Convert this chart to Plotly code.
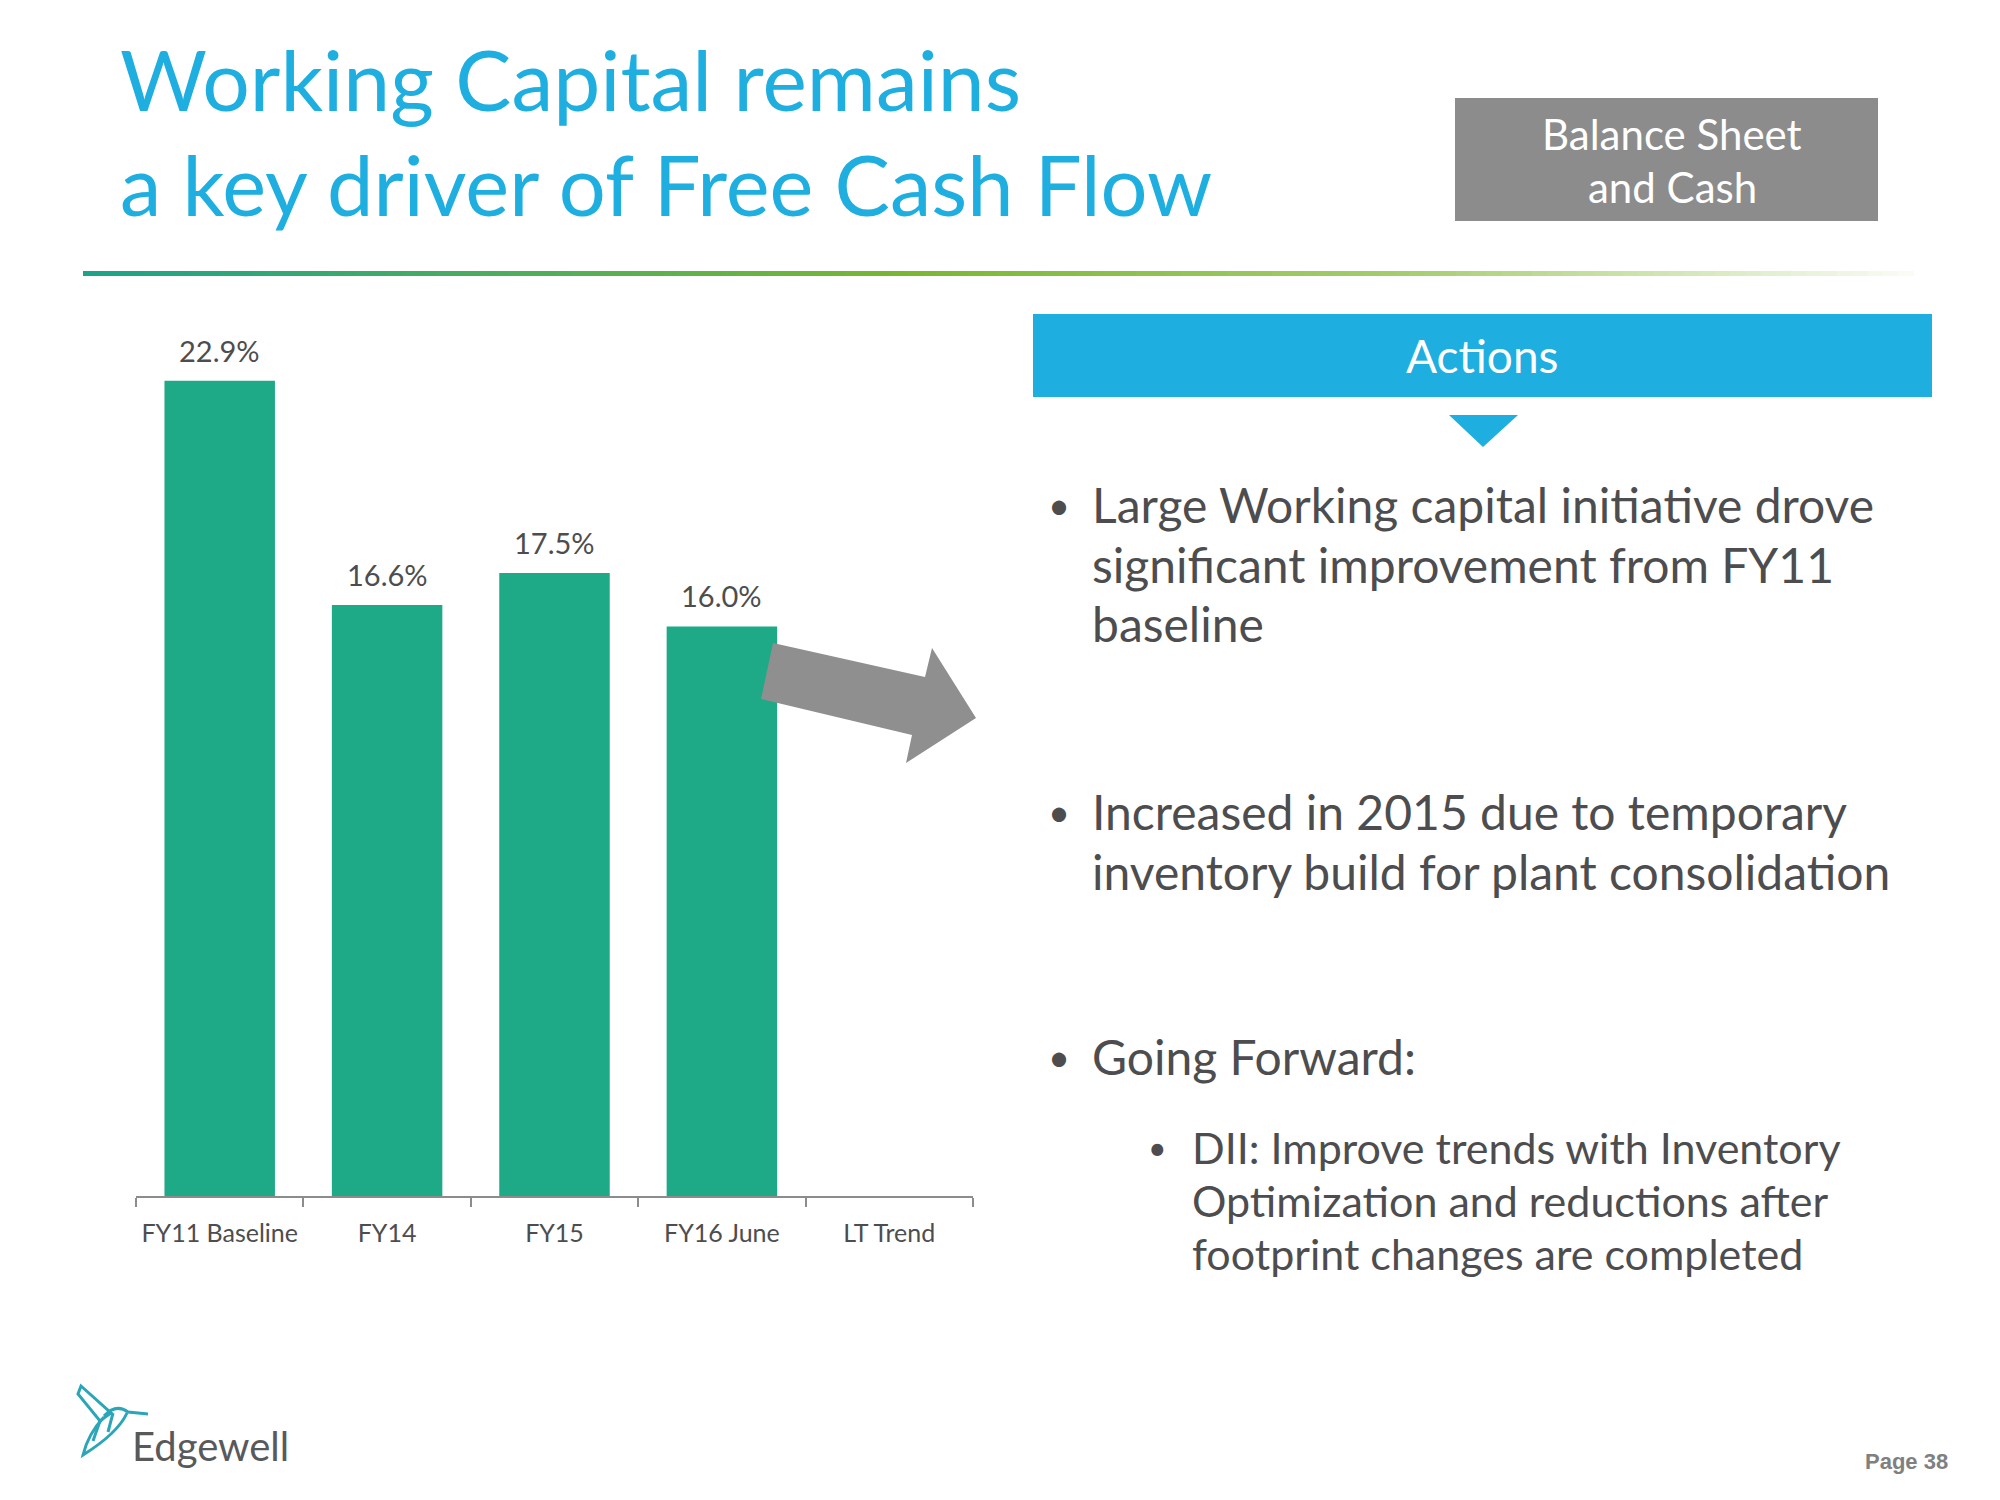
import plotly.graph_objects as go

# ---------------- data ----------------
categories = ["FY11 Baseline", "FY14", "FY15", "FY16 June", "LT Trend"]
wc_pct = [22.9, 16.6, 17.5, 16.0, None]
value_labels = ["22.9%", "16.6%", "17.5%", "16.0%", ""]

title_lines = ["Working Capital remains", "a key driver of Free Cash Flow"]
badge_lines = ["Balance Sheet", "and Cash"]
bullet1 = ["Large Working capital initiative drove", "significant improvement from FY11", "baseline"]
bullet2 = ["Increased in 2015 due to temporary", "inventory build for plant consolidation"]
bullet3 = ["Going Forward:"]
sub_bullet = ["DII: Improve trends with Inventory", "Optimization and reductions after",
              "footprint changes are completed"]

W, H = 2000, 1500
FONT = "Lato"
TEXT_GRAY = "#4d4d4f"
BAR = "#1ea987"
CYAN = "#1eaee0"


def px(x):
    return x / W


def py(y):
    return 1 - y / H


fig = go.Figure()
fig.add_trace(go.Bar(x=categories, y=wc_pct, marker_color=BAR, marker_line_width=0,
                     hoverinfo="skip"))

annotations = []
shapes = []

# value labels over the bars
for c, v, t in zip(categories, wc_pct, value_labels):
    if v is None:
        continue
    annotations.append(dict(x=c, y=v, xref="x", yref="y", text=t, showarrow=False,
                            yanchor="bottom", yshift=11,
                            font=dict(family=FONT, size=29, color=TEXT_GRAY)))

# title
for txt, yc, sz in zip(title_lines, [78, 184], [84, 83]):
    annotations.append(dict(x=px(118), y=py(yc), xref="paper", yref="paper", text=txt,
                            showarrow=False, xanchor="left", yanchor="middle",
                            font=dict(family=FONT, size=sz, color=CYAN)))

# badge
shapes.append(dict(type="rect", xref="paper", yref="paper", x0=px(1455), x1=px(1878),
                   y0=py(98), y1=py(221), fillcolor="#8c8c8c", line_width=0, layer="below"))
for txt, yc in zip(badge_lines, [134, 187]):
    annotations.append(dict(x=px(1672), y=py(yc), xref="paper", yref="paper", text=txt,
                            showarrow=False, xanchor="center", yanchor="middle",
                            font=dict(family=FONT, size=42, color="white")))

# gradient rule
def lerp(a, b, t):
    return tuple(int(round(a[i] + (b[i] - a[i]) * t)) for i in range(3))

stops = [(0.0, (27, 163, 138)), (0.45, (122, 183, 50)), (0.72, (165, 205, 110)), (1.0, (250, 252, 246))]
n = 120
x_start, x_end = 83, 1913
for i in range(n):
    t = (i + 0.5) / n
    for j in range(len(stops) - 1):
        if stops[j][0] <= t <= stops[j + 1][0]:
            tt = (t - stops[j][0]) / (stops[j + 1][0] - stops[j][0])
            col = lerp(stops[j][1], stops[j + 1][1], tt)
            break
    xa = x_start + (x_end - x_start) * i / n
    xb = x_start + (x_end - x_start) * (i + 1) / n + 0.8
    shapes.append(dict(type="rect", xref="paper", yref="paper", x0=px(xa), x1=px(xb),
                       y0=py(276), y1=py(271), fillcolor="rgb(%d,%d,%d)" % col,
                       line_width=0, layer="below"))

# Actions banner
shapes.append(dict(type="rect", xref="paper", yref="paper", x0=px(1033), x1=px(1932),
                   y0=py(314), y1=py(397), fillcolor=CYAN, line_width=0, layer="below"))
annotations.append(dict(x=px(1482), y=py(355), xref="paper", yref="paper", text="Actions",
                        showarrow=False, xanchor="center", yanchor="middle",
                        font=dict(family=FONT, size=46, color="white")))
shapes.append(dict(type="path", xref="paper", yref="paper",
                   path="M %f,%f L %f,%f L %f,%f Z" % (px(1449), py(415), px(1518), py(415),
                                                       px(1483), py(447)),
                   fillcolor=CYAN, line_width=0))

# grey arrow over the chart
arrow_pts = [(773, 643), (925, 677), (932, 648), (976, 718), (906, 763), (912, 735), (761, 699)]
path = "M " + " L ".join("%f,%f" % (px(x), py(y)) for x, y in arrow_pts) + " Z"
shapes.append(dict(type="path", xref="paper", yref="paper", path=path,
                   fillcolor="#8f8f8f", line_width=0, layer="above"))

# bullets
def add_lines(lines, x_text, x_dot, y0, step, size, dot_size):
    for k, txt in enumerate(lines):
        annotations.append(dict(x=px(x_text), y=py(y0 + k * step), xref="paper", yref="paper",
                                text=txt, showarrow=False, xanchor="left", yanchor="middle",
                                font=dict(family=FONT, size=size, color=TEXT_GRAY)))
    annotations.append(dict(x=px(x_dot), y=py(y0), xref="paper", yref="paper", text="•",
                            showarrow=False, xanchor="center", yanchor="middle",
                            font=dict(family=FONT, size=dot_size, color=TEXT_GRAY)))

add_lines(bullet1, 1090, 1059, 504, 60, 48, 38)
add_lines(bullet2, 1090, 1059, 811, 60, 48, 38)
add_lines(bullet3, 1090, 1059, 1056, 60, 48, 38)
add_lines(sub_bullet, 1190, 1157, 1147, 53, 43, 32)

# logo
TEAL = "#2aa6b8"
logo_paths = [
    [("M", 81, 1386), ("L", 111, 1413), ("L", 100, 1421), ("L", 78, 1394), ("Z",)],
    [("M", 104, 1416), ("Q", 116, 1403, 128, 1412), ("L", 148, 1414)],
    [("M", 127, 1413), ("Q", 118, 1433, 83, 1455), ("Q", 88, 1434, 104, 1417)],
    [("M", 100, 1421), ("L", 93, 1441)],
    [("M", 113, 1413), ("L", 108, 1432)],
]
for segs in logo_paths:
    parts = []
    for s in segs:
        if s[0] == "Z":
            parts.append("Z")
        else:
            coords = s[1:]
            pts = ["%f,%f" % (px(coords[k]), py(coords[k + 1])) for k in range(0, len(coords), 2)]
            parts.append(s[0] + " " + " ".join(pts))
    shapes.append(dict(type="path", xref="paper", yref="paper", path=" ".join(parts),
                       line=dict(color=TEAL, width=3)))
annotations.append(dict(x=px(130), y=py(1446), xref="paper", yref="paper", text="Edgewell",
                        showarrow=False, xanchor="left", yanchor="middle",
                        font=dict(family=FONT, size=40, color="#58595b")))

# page number
annotations.append(dict(x=px(1950), y=py(1461), xref="paper", yref="paper", text="Page 38",
                        showarrow=False, xanchor="right", yanchor="middle",
                        font=dict(family="Liberation Sans", size=22, color="#808080",
                                  weight="bold")))

fig.update_layout(
    width=W, height=H, margin=dict(l=0, r=0, t=0, b=0),
    paper_bgcolor="white", plot_bgcolor="white", showlegend=False,
    bargap=0.34,
    xaxis=dict(domain=[px(136), px(973)], showline=True, linecolor="#8c8c8c", linewidth=2,
               ticks="outside", tickson="boundaries", ticklen=9, tickcolor="#8c8c8c",
               tickwidth=2, showgrid=False, zeroline=False, ticklabelstandoff=14,
               tickfont=dict(family=FONT, size=25, color=TEXT_GRAY), fixedrange=True),
    yaxis=dict(domain=[py(1196), py(306)], range=[0, 25], visible=False, fixedrange=True),
    annotations=annotations, shapes=shapes,
)

fig.write_html("out.html")
